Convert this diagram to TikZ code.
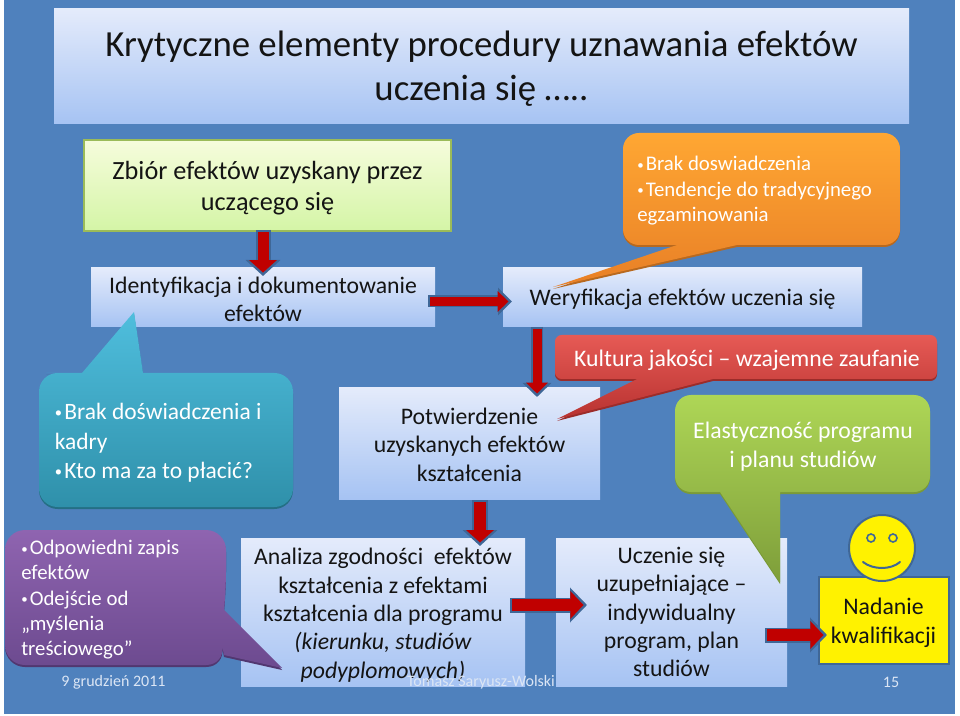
\documentclass[tikz,border=0pt]{standalone}
\usepackage{fontspec}
\setmainfont{Carlito}
\usetikzlibrary{arrows.meta}
\definecolor{bgblue}{HTML}{4F81BD}
\definecolor{ink}{HTML}{141414}
\definecolor{edgeblue}{HTML}{3F6797}
\definecolor{arrowred}{HTML}{C00000}
\definecolor{foot}{HTML}{DCE6F5}
\definecolor{boxlow}{HTML}{A6C3F3}
\definecolor{boxtop}{HTML}{E4EBFB}
\definecolor{zbiortop}{HTML}{F6FCDC}\definecolor{zbiorlow}{HTML}{D4F5A6}\definecolor{zbioredge}{HTML}{9BBB59}
\definecolor{oa}{HTML}{FFA733}\definecolor{ob}{HTML}{F6922E}\definecolor{oc}{HTML}{E87F26}\definecolor{od}{HTML}{B8691F}
\definecolor{ra}{HTML}{E65A55}\definecolor{rb}{HTML}{D44541}\definecolor{rc}{HTML}{B83230}\definecolor{rd}{HTML}{9C2C2A}
\definecolor{ta}{HTML}{4FBEDD}\definecolor{tb}{HTML}{38A8C6}\definecolor{tc}{HTML}{2F90AA}\definecolor{td}{HTML}{246F85}
\definecolor{ga}{HTML}{AED656}\definecolor{gb}{HTML}{A4CE4C}\definecolor{gc}{HTML}{7E9E3A}\definecolor{gd}{HTML}{7A9A38}
\definecolor{pa}{HTML}{8F64B0}\definecolor{pb}{HTML}{7E55A0}\definecolor{pc}{HTML}{6C4A8F}\definecolor{pd}{HTML}{513770}
\newcommand{\fs}[2]{\fontsize{#1}{#2}\selectfont}
\newcommand{\bul}{\raisebox{.08em}{\scalebox{.62}{•}}\kern.1em}
\newcommand{\dn}[1]{\rule{0pt}{#1}}
\tikzset{
  x=0.75pt, y=-0.75pt,
  sz/.style 2 args={minimum width=#1*0.75pt, minimum height=#2*0.75pt, inner sep=0pt, outer sep=0pt},
  stepbox/.style={shade, top color=boxtop, bottom color=boxlow, text=ink, align=center},
  outerarrow/.style={draw=edgeblue, line width=#1*0.75pt},
  redarrow/.style={draw=arrowred, line width=#1*0.75pt},
  bubble/.style n args={4}{shade, top color=#1, middle color=#2, bottom color=#3,
     preaction={fill=#4, transform canvas={yshift=-1.5pt}}},
  bubbletext/.style={text=white, align=left, inner sep=0pt, anchor=north west},
  foottext/.style={text=foot, font=\fs{12}{14}},
}
\newcommand{\blockarrow}[7]{% start, end, shaft width, head width, head length
  \draw[outerarrow=#3, -{Triangle[length=#5*0.75pt, width=#4*0.75pt]}] (#1) -- (#2);
  \draw[redarrow=#6, shorten >=2.6pt, shorten <=1.5pt, -{Triangle[length=#5*0.58pt, width=#7*0.75pt]}] (#1) -- (#2);
}
\begin{document}
\begin{tikzpicture}
\useasboundingbox (0,0) rectangle (960,716);
\fill[white] (0,0) rectangle (960,716);
\fill[bgblue] (4,0) rectangle (955,714);

% plain step boxes
\node[stepbox, sz={855}{115}, font=\fs{27.6}{33}] (title) at (481.5,66.5)
  {\dn{23pt}Krytyczne elementy procedury uznawania efektów\\uczenia się …..};
\node[shade, top color=zbiortop, bottom color=zbiorlow, draw=zbioredge, line width=0.8pt, sz={367}{91}, align=center, text=ink, font=\fs{19.7}{23.3}] (zbior) at (267.5,185.5)
  {\dn{18pt}Zbiór efektów uzyskany przez\\uczącego się};
\node[stepbox, sz={344}{59}, font=\fs{17.8}{21.2}] (ident) at (263,297.5)
  {\dn{15pt}Identyfikacja i dokumentowanie\\efektów};
\node[stepbox, sz={359}{59}, font=\fs{17.8}{22}] (weryf) at (682.5,297.5)
  {\dn{15pt}Weryfikacja efektów uczenia się};
\node[stepbox, sz={261}{111}, font=\fs{17.8}{21.5}] (potw) at (469.5,443.5)
  {\dn{14pt}Potwierdzenie\\uzyskanych efektów\\kształcenia};
\node[stepbox, sz={284}{148}, font=\fs{17.8}{21.3}] (analiza) at (383,612)
  {\dn{17pt}Analiza zgodności~ efektów\\kształcenia z efektami\\kształcenia dla programu\\\textit{(kierunku, studiów}\\\textit{podyplomowych)}};
\node[stepbox, sz={231}{148}, font=\fs{17.8}{21.3}] (uczenie) at (671.5,612)
  {Uczenie się\\uzupełniające --\\indywidualny\\program, plan\\studiów};
\node[fill=yellow, draw=edgeblue, line width=1.5pt, sz={130}{87}, align=center, text=ink, font=\fs{17.8}{21.8}] (nadanie) at (883.5,620)
  {\dn{16pt}Nadanie\\kwalifikacji};
\node[circle, fill=yellow, draw=edgeblue, line width=1.5pt, minimum size=66*0.75pt, inner sep=0pt] (smile) at (882,548) {};
\filldraw[fill=yellow, draw=edgeblue, line width=1.2pt] (871,538) circle[radius=4];
\filldraw[fill=yellow, draw=edgeblue, line width=1.2pt] (893,538) circle[radius=4];
\draw[edgeblue, line width=1.5pt, line cap=round] (863,562) .. controls (873,570) and (891,570) .. (900,562);

% connectors
\coordinate (a1s) at (263,230);  \coordinate (a1e) at (263,276);
\coordinate (a2s) at (428,301.5);\coordinate (a2e) at (512,301.5);
\coordinate (a3s) at (537,327);  \coordinate (a3e) at (537,397);
\coordinate (a4s) at (480,500);  \coordinate (a4e) at (480,546);
\coordinate (a5s) at (510,605);  \coordinate (a5e) at (587,605);
\coordinate (a6s) at (765,635);  \coordinate (a6e) at (827,635);
\blockarrow{a1s}{a1e}{15}{34}{16}{11}{27}
\blockarrow{a2s}{a2e}{12}{27}{14}{9}{20}
\blockarrow{a3s}{a3e}{12}{28}{14}{9}{21}
\blockarrow{a4s}{a4e}{16}{34}{16}{12}{27}
\blockarrow{a5s}{a5e}{15}{34}{17}{12}{27}
\blockarrow{a6s}{a6e}{15}{34}{17}{12}{27}

% callouts
\path[bubble={oa}{ob}{oc}{od}]
  [rounded corners=12pt] (623,133) -- (900,133) -- (900,245) -- (760,245)
  [sharp corners] -- (737,245) -- (553,287) -- (677,245) -- (655,245)
  [rounded corners=12pt] -- (623,245) -- cycle;
\path[bubble={ra}{rb}{rc}{rd}]
  [rounded corners=5pt] (555,335) -- (937,335) -- (937,379) -- (730,379)
  [sharp corners] -- (713,379) -- (557,419) -- (637,379) -- (620,379)
  [rounded corners=5pt] -- (555,379) -- cycle;
\path[bubble={ta}{tb}{tc}{td}]
  [rounded corners=14pt] (39,373) -- (65,373)
  [sharp corners] -- (82,373) -- (134,312) -- (143,373) -- (165,373)
  [rounded corners=14pt] -- (293,373) -- (293,507) -- (39,507) -- cycle;
\path[bubble={ga}{gb}{gc}{gd}]
  [rounded corners=12pt] (675,395) -- (930,395) -- (930,492) -- (800,492)
  [sharp corners] -- (780,492) -- (780,582) -- (720,492) -- (700,492)
  [rounded corners=12pt] -- (675,492) -- cycle;
\path[bubble={pa}{pb}{pc}{pd}]
  [rounded corners=15pt] (5,530) -- (226,530) -- (226,590)
  [sharp corners] -- (224,610) -- (282,668) -- (224,655)
  [rounded corners=15pt] -- (226,665) -- (5,665) -- cycle;

% callout texts
\node[bubbletext, font=\fs{15.6}{19.1}] (torange) at (637,156)
  {\bul Brak doswiadczenia\\\bul Tendencje do tradycyjnego\\egzaminowania};
\node[text=white, inner sep=0pt, font=\fs{17.8}{20}] (tred) at (747,360.5)
  {Kultura jakości -- wzajemne zaufanie};
\node[bubbletext, font=\fs{17.6}{22.1}] (tteal) at (54.5,403)
  {\bul Brak doświadczenia i\\kadry\\\bul Kto ma za to płacić?};
\node[text=white, align=center, inner sep=0pt, font=\fs{17.8}{21.6}] (tgreen) at (803,446.5)
  {Elastyczność programu\\i planu studiów};
\node[bubbletext, font=\fs{15.6}{18.9}] (tpurple) at (21,540)
  {\bul Odpowiedni zapis\\efektów\\\bul Odejście od\\„myślenia\\treściowego”};

% footer
\node[foottext, inner sep=0pt] (fdate) at (113.5,682.5) {9 grudzień 2011};
\node[foottext, inner sep=0pt] (fauth) at (481,682.5) {Tomasz Saryusz-Wolski};
\node[foottext, inner sep=0pt] (fnum) at (891,682.5) {15};
\end{tikzpicture}
\end{document}
